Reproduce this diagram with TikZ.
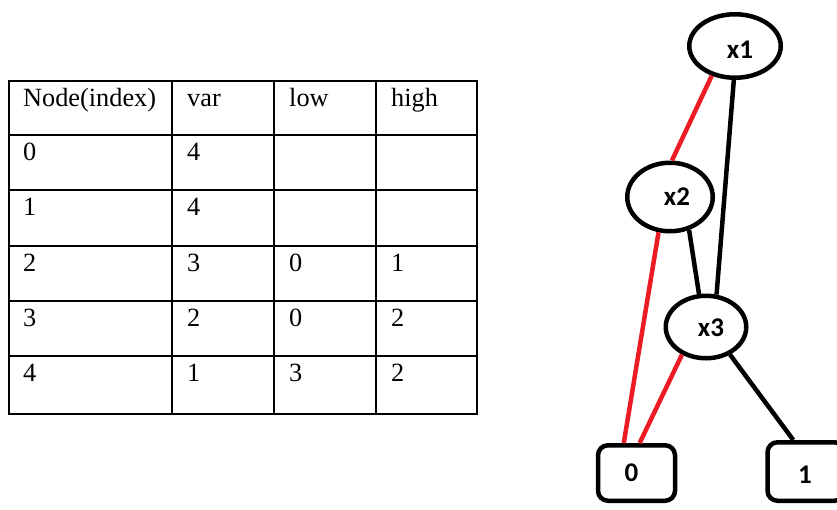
\documentclass[tikz,border=0pt]{standalone}
\usepackage{fontspec}
\setmainfont{Liberation Serif}
\newfontfamily\lblfont{Carlito}
\usetikzlibrary{shapes.geometric}
\definecolor{pred}{HTML}{ED1C24}
\begin{document}
\begin{tikzpicture}[x=1pt,y=-1pt,
  cell/.style={anchor=base west,inner sep=0pt,font=\fontsize{26.3}{30}\selectfont},
  tline/.style={line width=2pt,line cap=rect},
  bnode/.style={ellipse,draw,line width=4.5pt,inner sep=0pt},
  tbox/.style={rectangle,rounded corners=10pt,draw,line width=4.5pt,inner sep=0pt,minimum width=77pt},
  lbl/.style={font=\lblfont\bfseries\fontsize{27}{30}\selectfont,inner sep=0pt},
  redge/.style={pred,line width=4.5pt},
  bedge/.style={black,line width=4.5pt}]
\useasboundingbox (0,0) rectangle (837,509);
% table grid
\foreach \y in {81,135,190,246,301,356,414} \draw[tline] (9,\y) -- (477,\y);
\foreach \x in {9,172,274,376,477} \draw[tline] (\x,81) -- (\x,414);
% header
\node[cell] (h1) at (23,106) {Node(index)};
\node[cell] (h2) at (187,106) {var};
\node[cell] (h3) at (289,106) {low};
\node[cell] (h4) at (391,106) {high};
% rows
\node[cell] (r0a) at (23,160) {0};
\node[cell] (r0b) at (187,160) {4};
\node[cell] (r1a) at (23,215.5) {1};
\node[cell] (r1b) at (187,215.5) {4};
\node[cell] (r2a) at (23,271) {2};
\node[cell] (r2b) at (187,271) {3};
\node[cell] (r2c) at (289,271) {0};
\node[cell] (r2d) at (391,271) {1};
\node[cell] (r3a) at (23,326.5) {3};
\node[cell] (r3b) at (187,326.5) {2};
\node[cell] (r3c) at (289,326.5) {0};
\node[cell] (r3d) at (391,326.5) {2};
\node[cell] (r4a) at (23,381.5) {4};
\node[cell] (r4b) at (187,381.5) {1};
\node[cell] (r4c) at (289,381.5) {3};
\node[cell] (r4d) at (391,381.5) {2};
% BDD nodes
\node[bnode,minimum width=91.5pt,minimum height=63.5pt,
  label={[lbl,xshift=5pt,yshift=-4pt]center:x1}] (x1) at (735,46) {};
\node[bnode,minimum width=85.5pt,minimum height=68.5pt,
  label={[lbl,xshift=7pt]center:x2}] (x2) at (670,197) {};
\node[bnode,minimum width=80.5pt,minimum height=62.5pt,
  label={[lbl,xshift=5pt,yshift=-1pt]center:x3}] (x3) at (706,327) {};
\node[tbox,minimum height=55.5pt,
  label={[lbl,xshift=-5pt]center:0}] (b0) at (636.5,473) {};
\node[tbox,minimum height=58.5pt,
  label={[lbl,xshift=-1pt,yshift=-3pt]center:1}] (b1) at (806,471.5) {};
% edges
\draw[redge] (x1.232) -- (x2.87);
\draw[bedge] (x1.268) -- (x3.72);
\draw[bedge] (x2.300) -- (x3.102);
\draw[redge] (x2.252) -- (b0.113);
\draw[redge] (x3.229) -- (b0.84);
\draw[bedge] (x3.311) -- (b1.112);
\end{tikzpicture}
\end{document}
